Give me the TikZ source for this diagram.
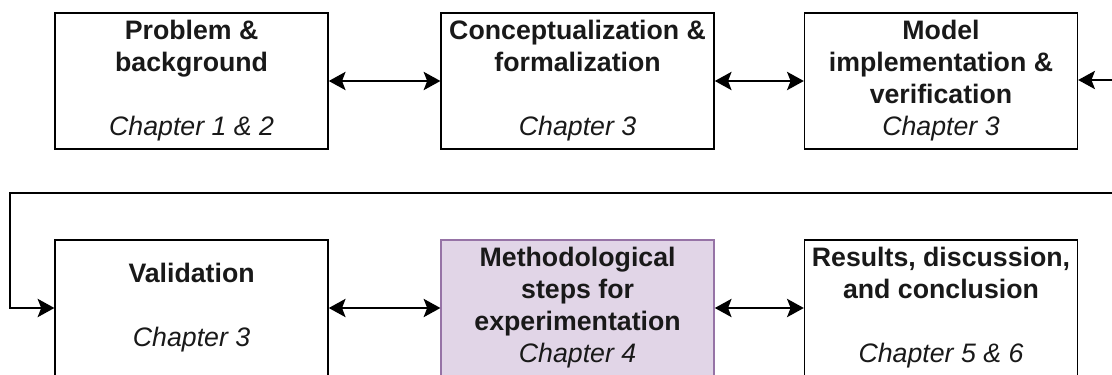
\documentclass[tikz,border=0pt]{standalone}
\usepackage{fontspec}
\setmainfont{Liberation Sans}
\usetikzlibrary{arrows.meta}
\definecolor{lilacfill}{HTML}{E1D5E7}
\definecolor{lilacline}{HTML}{9673A6}
\newcommand{\chap}[1]{\textit{\mdseries #1}}
\tikzset{
  stage/.style={draw, line width=1pt, minimum width=6.825cm, minimum height=3.4cm,
    inner sep=0pt, align=center, text=black!90, font=\fontsize{19}{22.8}\selectfont\bfseries},
  link/.style={line width=1pt, >={Stealth[length=0.42cm, width=0.46cm, inset=0.09cm]}}
}
\begin{document}
\begin{tikzpicture}
	\useasboundingbox (0,0) rectangle (27.8,9.35);
	% top row
	\node[stage] (prob) at (4.79,7.325) {Problem \&\\background\\~\\\chap{Chapter 1 \& 2}};
	\node[stage] (concept) at (14.44,7.325) {Conceptualization \&\\formalization\\~\\\chap{Chapter 3}};
	\node[stage] (impl) at (23.525,7.325) {Model\\implementation \&\\verification\\\chap{Chapter 3}};
	% bottom row
	\node[stage] (valid) at (4.79,1.65) {Validation\\~\\\chap{Chapter 3}};
	\node[stage, fill=lilacfill, draw=lilacline] (method) at (14.44,1.65) {Methodological\\steps for\\experimentation\\\chap{Chapter 4}};
	\node[stage] (results) at (23.525,1.65) {Results, discussion,\\and conclusion\\~\\\chap{Chapter 5 \& 6}};
	% connectors
	\draw[link,<->] (prob) -- (concept);
	\draw[link,<->] (concept) -- (impl);
	\coordinate (inR) at (27.8,7.35);
	\draw[link,->] (inR) -- (impl.east |- inR);
	\coordinate (loopR) at (27.8,4.525);
	\coordinate (loopL) at (0.25,4.525);
	\draw[link,->] (loopR) -- (loopL) |- (valid.west);
	\draw[link,<->] (valid) -- (method);
	\draw[link,<->] (method) -- (results);
\end{tikzpicture}
\end{document}
